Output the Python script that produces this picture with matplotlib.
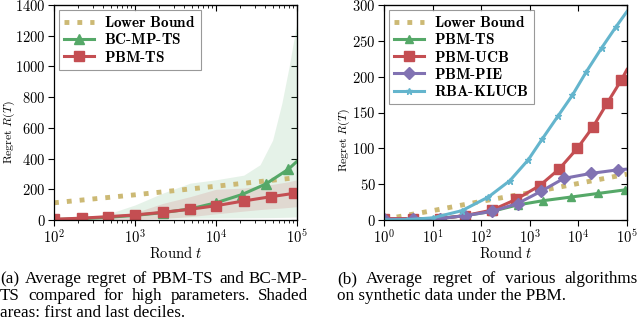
import numpy as np
import matplotlib
matplotlib.use("Agg")
import matplotlib.pyplot as plt

plt.rcParams['mathtext.fontset'] = 'cm'
plt.rcParams['font.family'] = 'serif'
plt.rcParams['font.serif'] = ['Liberation Serif', 'DejaVu Serif']

# seaborn "deep" (old) colours
c_lb = '#CCB974'
c_green = '#55A868'
c_red = '#C44E52'
c_purple = '#8172B2'
c_cyan = '#64B5CD'

# ---------------- left panel data ----------------
a_lb_t = [1e2, 1e3, 1e4, 1e5]
a_lb_r = [112, 164, 220, 276]

a_bc_t = [1e2, 2.2e2, 4.7e2, 1e3, 2.2e3, 4.8e3, 1e4, 2.1e4, 4.1e4, 7.8e4, 1e5]
a_bc_r = [3, 9, 18, 30, 48, 72, 112, 166, 234, 330, 382]

a_pbm_t = [1e2, 2.2e2, 4.7e2, 1e3, 2.2e3, 4.8e3, 1e4, 2.2e4, 4.8e4, 9.3e4, 1e5]
a_pbm_r = [5, 12, 22, 33, 50, 70, 93, 124, 152, 174, 178]

a_band_t = [1e2, 2.2e2, 4.7e2, 1e3, 2.2e3, 4.8e3, 1e4, 2.2e4, 3.5e4, 5e4, 6.5e4, 8e4, 1e5]
a_bc_lo = [0, 2, 5, 8, 10, 12, 13, 14, 15, 16, 17, 18, 20]
a_bc_hi = [3, 12, 40, 98, 175, 240, 262, 292, 360, 520, 760, 1000, 1290]
a_pbm_lo = [0, 1, 2, 4, 10, 22, 40, 58, 68, 74, 78, 82, 87]
a_pbm_hi = [6, 14, 25, 48, 108, 152, 200, 208, 222, 232, 242, 250, 262]

# ---------------- right panel data ----------------
b_lb_t = [1, 10, 1e2, 1e3, 1e4, 1e5]
b_lb_r = [1, 13, 26, 38, 51, 64]

b_ts_t = [1, 4, 13, 46, 166, 560, 1900, 7000, 2.5e4, 9e4, 1e5]
b_ts_r = [0, 1, 2, 6, 12, 21, 27, 32, 37, 42, 43]

b_ucb_t = [1, 4, 14, 46, 170, 530, 1600, 4000, 9500, 2e4, 3.9e4, 7.6e4, 1e5]
b_ucb_r = [2, 2, 2, 6, 14, 29, 48, 71, 100, 130, 163, 195, 210]

b_pie_t = [1, 4, 14, 46, 166, 560, 1700, 5000, 1.8e4, 6.5e4, 1e5]
b_pie_r = [1, 1, 2, 6, 12, 23, 40, 58, 65, 70, 71]

b_rba_t = [1, 3, 10, 40, 140, 390, 930, 1800, 3800, 7500, 1.46e4, 3e4, 6e4, 1e5]
b_rba_r = [0, 0.5, 3, 13, 32, 55, 84, 113, 145, 174, 207, 240, 270, 291]

cap_a = ['(a) Average regret of PBM-TS and BC-MP-',
         'TS compared for high parameters. Shaded',
         'areas: first and last deciles.']
cap_b = ['(b) Average regret of various algorithms',
         'on synthetic data under the PBM.']

fig = plt.figure(figsize=(6.4, 3.21), dpi=100)
ax1 = fig.add_axes([54 / 640, 1 - 220 / 321, 243 / 640, 215 / 321])
ax2 = fig.add_axes([384 / 640, 1 - 220 / 321, 243 / 640, 215 / 321])


def bold(s):
    s = s.replace(' ', r'\ ').replace('-', r'\text{-}')
    return r'$\mathbf{' + s + '}$'


# left
ax1.fill_between(a_band_t, a_bc_lo, a_bc_hi, color=c_green, alpha=0.15, lw=0)
ax1.fill_between(a_band_t, a_pbm_lo, a_pbm_hi, color=c_red, alpha=0.15, lw=0)
ax1.plot(a_lb_t, a_lb_r, ls=':', color=c_lb, lw=3.5, label=bold('Lower Bound'))
ax1.plot(a_bc_t, a_bc_r, color=c_green, lw=2.2, marker='^', ms=6.5,
         markevery=list(range(len(a_bc_t) - 1)), label=bold('BC-MP-TS'))
ax1.plot(a_pbm_t, a_pbm_r, color=c_red, lw=2.2, marker='s', ms=7.5,
         markevery=list(range(len(a_pbm_t) - 1)), label=bold('PBM-TS'))
ax1.set_xlim(1e2, 1e5)
ax1.set_ylim(0, 1400)
ax1.set_yticks(range(0, 1401, 200))

# right
ax2.plot(b_lb_t, b_lb_r, ls=':', color=c_lb, lw=3.5, label=bold('Lower Bound'))
ax2.plot(b_ts_t, b_ts_r, color=c_green, lw=2.2, marker='^', ms=5.5,
         markevery=list(range(len(b_ts_t) - 1)), label=bold('PBM-TS'))
ax2.plot(b_ucb_t, b_ucb_r, color=c_red, lw=2.2, marker='s', ms=6.5,
         markevery=list(range(len(b_ucb_t) - 1)), label=bold('PBM-UCB'))
ax2.plot(b_pie_t, b_pie_r, color=c_purple, lw=2.2, marker='D', ms=6.5,
         markevery=list(range(len(b_pie_t) - 1)), label=bold('PBM-PIE'))
ax2.plot(b_rba_t, b_rba_r, color=c_cyan, lw=2.2, marker='*', ms=4.5,
         markevery=list(range(len(b_rba_t) - 1)), label=bold('RBA-KLUCB'))
ax2.set_xlim(1, 1e5)
ax2.set_ylim(0, 300)
ax2.set_yticks(range(0, 301, 50))

for ax, decs, ylab_pos in ((ax1, [2, 3, 4, 5], (-0.185, 0.41)),
                           (ax2, [0, 1, 2, 3, 4, 5], (-0.165, 0.37))):
    ax.set_xscale('log')
    ax.set_xticks([10.0 ** d for d in decs])
    ax.set_xticklabels([r'$\mathbf{10^{%d}}$' % d for d in decs])
    ax.set_yticklabels([bold(str(int(v))) for v in ax.get_yticks()])
    ax.tick_params(which='both', direction='out', labelsize=10.5)
    ax.tick_params(which='major', length=4, width=0.8)
    ax.tick_params(which='minor', length=2, width=0.6)
    ax.tick_params(axis='x', pad=2)
    ax.tick_params(axis='y', pad=2)
    # top/right ticks point inwards
    top = ax.secondary_xaxis('top')
    top.set_xticks(ax.get_xticks())
    top.tick_params(which='both', direction='in', labeltop=False)
    top.tick_params(which='major', length=4, width=0.8)
    top.tick_params(which='minor', length=2, width=0.6)
    right = ax.secondary_yaxis('right')
    right.set_yticks(ax.get_yticks())
    right.tick_params(direction='in', labelright=False, length=4, width=0.8)
    for sp in ax.spines.values():
        sp.set_linewidth(0.9)
    ax.set_xlabel(r'$\mathrm{Round}\ t$', fontsize=10.5)
    ax.xaxis.set_label_coords(0.5, -0.118)
    ax.set_ylabel(r'$\mathrm{Regret}\ R(T)$', fontsize=8.5, va='center')
    ax.yaxis.set_label_coords(*ylab_pos)
    leg = ax.legend(loc='upper left', fontsize=11, frameon=True, fancybox=False,
                    handlelength=2.0, handletextpad=0.6, borderpad=0.35,
                    labelspacing=0.15, borderaxespad=0.3)
    leg.get_frame().set_edgecolor('#808080')
    leg.get_frame().set_linewidth(0.8)

# captions, justified like the LaTeX original
fig.canvas.draw()
renderer = fig.canvas.get_renderer()
cap_size = 12.3


def caption_line(text, x0, x1, y, justify):
    if not justify:
        fig.text(x0 / 640, 1 - y / 321, text, fontsize=cap_size, va='center')
        return
    words = text.split(' ')
    objs = [fig.text(0, 1 - y / 321, w, fontsize=cap_size, va='center') for w in words]
    widths = [o.get_window_extent(renderer).width for o in objs]
    gap = (x1 - x0 - sum(widths)) / (len(words) - 1)
    x = x0
    for o, w in zip(objs, widths):
        o.set_x(x / 640)
        x += w + gap


caption_line(cap_a[0], 0, 308, 279, True)
caption_line(cap_a[1], 0, 308, 296, True)
caption_line(cap_a[2], 0, 308, 313, False)
caption_line(cap_b[0], 337, 638, 279, True)
caption_line(cap_b[1], 337, 638, 296, False)

fig.savefig('out.png', dpi=100)
